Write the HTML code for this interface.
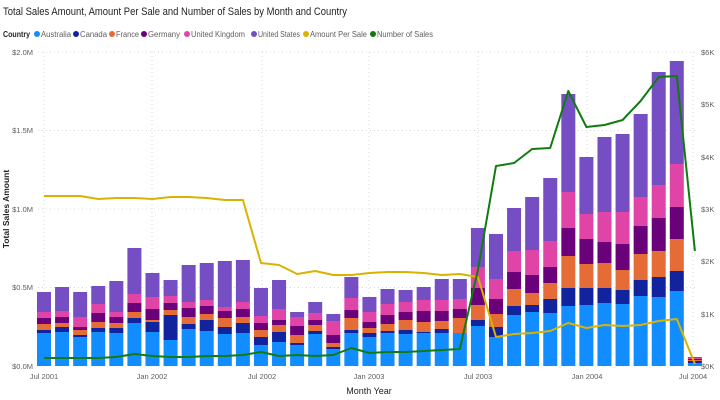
<!DOCTYPE html>
<html><head><meta charset="utf-8"><style>
html,body{margin:0;padding:0;background:#fff;width:720px;height:400px;overflow:hidden}
svg text{font-family:"Liberation Sans",sans-serif}
</style></head><body>
<svg id="c" width="720" height="400" viewBox="0 0 720 400" xmlns="http://www.w3.org/2000/svg">
<text x="3" y="15" font-size="11" fill="#252423" textLength="344" lengthAdjust="spacingAndGlyphs">Total Sales Amount, Amount Per Sale and Number of Sales by Month and Country</text>
<g font-size="8" fill="#605E5C" lengthAdjust="spacingAndGlyphs">
<text x="3" y="37" font-weight="bold" fill="#252423" textLength="27" lengthAdjust="spacingAndGlyphs">Country</text>
<circle cx="37" cy="34" r="3" fill="#118DFF"/><text x="41" y="37" textLength="30" lengthAdjust="spacingAndGlyphs">Australia</text>
<circle cx="76" cy="34" r="3" fill="#12239E"/><text x="80" y="37" textLength="27" lengthAdjust="spacingAndGlyphs">Canada</text>
<circle cx="112" cy="34" r="3" fill="#E66C37"/><text x="116" y="37" textLength="23" lengthAdjust="spacingAndGlyphs">France</text>
<circle cx="144" cy="34" r="3" fill="#6B007B"/><text x="148" y="37" textLength="32" lengthAdjust="spacingAndGlyphs">Germany</text>
<circle cx="187" cy="34" r="3" fill="#E044A7"/><text x="191" y="37" textLength="54" lengthAdjust="spacingAndGlyphs">United Kingdom</text>
<circle cx="254" cy="34" r="3" fill="#744EC2"/><text x="258" y="37" textLength="42" lengthAdjust="spacingAndGlyphs">United States</text>
<circle cx="306" cy="34" r="3" fill="#D9B300"/><text x="310" y="37" textLength="57" lengthAdjust="spacingAndGlyphs">Amount Per Sale</text>
<circle cx="373" cy="34" r="3" fill="#107C10"/><text x="377" y="37" textLength="56" lengthAdjust="spacingAndGlyphs">Number of Sales</text>
</g>
<g id="grid" stroke="#d8d8d8" stroke-dasharray="1,3" stroke-width="1"></g>
<g id="bars"></g>
<g id="lines" fill="none" stroke-linejoin="round"></g>
<g font-size="7.5" fill="#605E5C">
<text x="33" y="55" text-anchor="end">$2.0M</text>
<text x="33" y="133" text-anchor="end">$1.5M</text>
<text x="33" y="212" text-anchor="end">$1.0M</text>
<text x="33" y="290" text-anchor="end">$0.5M</text>
<text x="33" y="369" text-anchor="end">$0.0M</text>
<text x="701" y="55">$6K</text>
<text x="701" y="107">$5K</text>
<text x="701" y="160">$4K</text>
<text x="701" y="212">$3K</text>
<text x="701" y="264">$2K</text>
<text x="701" y="317">$1K</text>
<text x="701" y="369">$0K</text>
<text x="44" y="379" text-anchor="middle">Jul 2001</text>
<text x="152" y="379" text-anchor="middle">Jan 2002</text>
<text x="262" y="379" text-anchor="middle">Jul 2002</text>
<text x="369" y="379" text-anchor="middle">Jan 2003</text>
<text x="478" y="379" text-anchor="middle">Jul 2003</text>
<text x="587" y="379" text-anchor="middle">Jan 2004</text>
<text x="693" y="379" text-anchor="middle">Jul 2004</text>
</g>
<text x="369" y="394" font-size="9" fill="#252423" text-anchor="middle">Month Year</text>
<text x="0" y="0" font-size="8.5" font-weight="bold" fill="#252423" text-anchor="middle" transform="translate(9,209) rotate(-90)">Total Sales Amount</text>
</svg>
<script>
var ns="http://www.w3.org/2000/svg";
function el(p,t,a){var e=document.createElementNS(ns,t);for(var k in a)e.setAttribute(k,a[k]);document.getElementById(p).appendChild(e);return e;}
[52,130.5,209,287.5].forEach(function(y){el("grid","line",{x1:38,x2:696,y1:y,y2:y});});
[44,152,262,369,478,587,693].forEach(function(x){el("grid","line",{x1:x,x2:x,y1:52,y2:366});});
var d=[
[33,3,6,6,6,292],[34,5,4,6,6,287],[29,2,5,3,10,292],[34,4,6,9,9,286],[33,5,5,6,5,281],[43,5,6,9,9,248],
[34,10,2,11,12,273],[26,25,5,7,7,280],[37,5,7,9,6,265],[35,11,6,8,6,263],[32,7,9,7,4,261],[33,10,6,8,7,260],
[21,8,7,7,7,288],[24,10,7,5,11,280],[21,2,8,9,9,312],[32,3,6,5,7,302],[17,2,4,8,14,314],[33,3,12,8,12,277],
[29,4,5,6,10,297],[33,2,7,9,11,289],[32,4,10,8,10,290],[33,1,10,11,11,287],[33,4,8,10,11,279],[33,0,15,9,10,279],
[40,6,15,17,21,228],[29,10,13,15,20,234],[51,9,17,17,21,208],[54,7,12,18,25,197],[53,14,16,16,26,178],[60,18,32,28,36,94],
[61,17,24,25,25,157],[63,15,25,21,30,137],[62,14,20,26,32,134],[70,16,26,28,29,114],[69,20,26,33,33,72],[75,20,32,32,43,61],
[3,2,1,1,1,357]];
var cols=["#118DFF","#12239E","#E66C37","#6B007B","#E044A7","#744EC2"];
var base=366,sp=18.08,bw=14;
d.forEach(function(b,i){
 var cx=44+i*sp,y=base;
 for(var s=0;s<5;s++){var h=b[s];if(h>0)el("bars","rect",{x:cx-bw/2,y:y-h,width:bw,height:h,fill:cols[s]});y-=h;}
 if(y>b[5])el("bars","rect",{x:cx-bw/2,y:b[5],width:bw,height:y-b[5],fill:cols[5]});
});
var yel=[196,196,196,199,198,198,199,197,197,198,200,200,263,265,274,271,275,275,273,272,272,273,275,274,277,337,334,333,331,323,328,325,326,325,321,319,364];
var grn=[358,358,358,358,357,354,356,357,357,356,356,355,352,356,355,356,355,348,353,352,352,351,350,349,270,166,163,149,148,91,127,125,120,101,77,76,251];
function pts(a){return a.map(function(v,i){return (44+i*sp).toFixed(1)+","+v;}).join(" ");}
el("lines","polyline",{points:pts(yel),stroke:"#D9B300","stroke-width":2});
el("lines","polyline",{points:pts(grn),stroke:"#107C10","stroke-width":2});
</script>
</body></html>
